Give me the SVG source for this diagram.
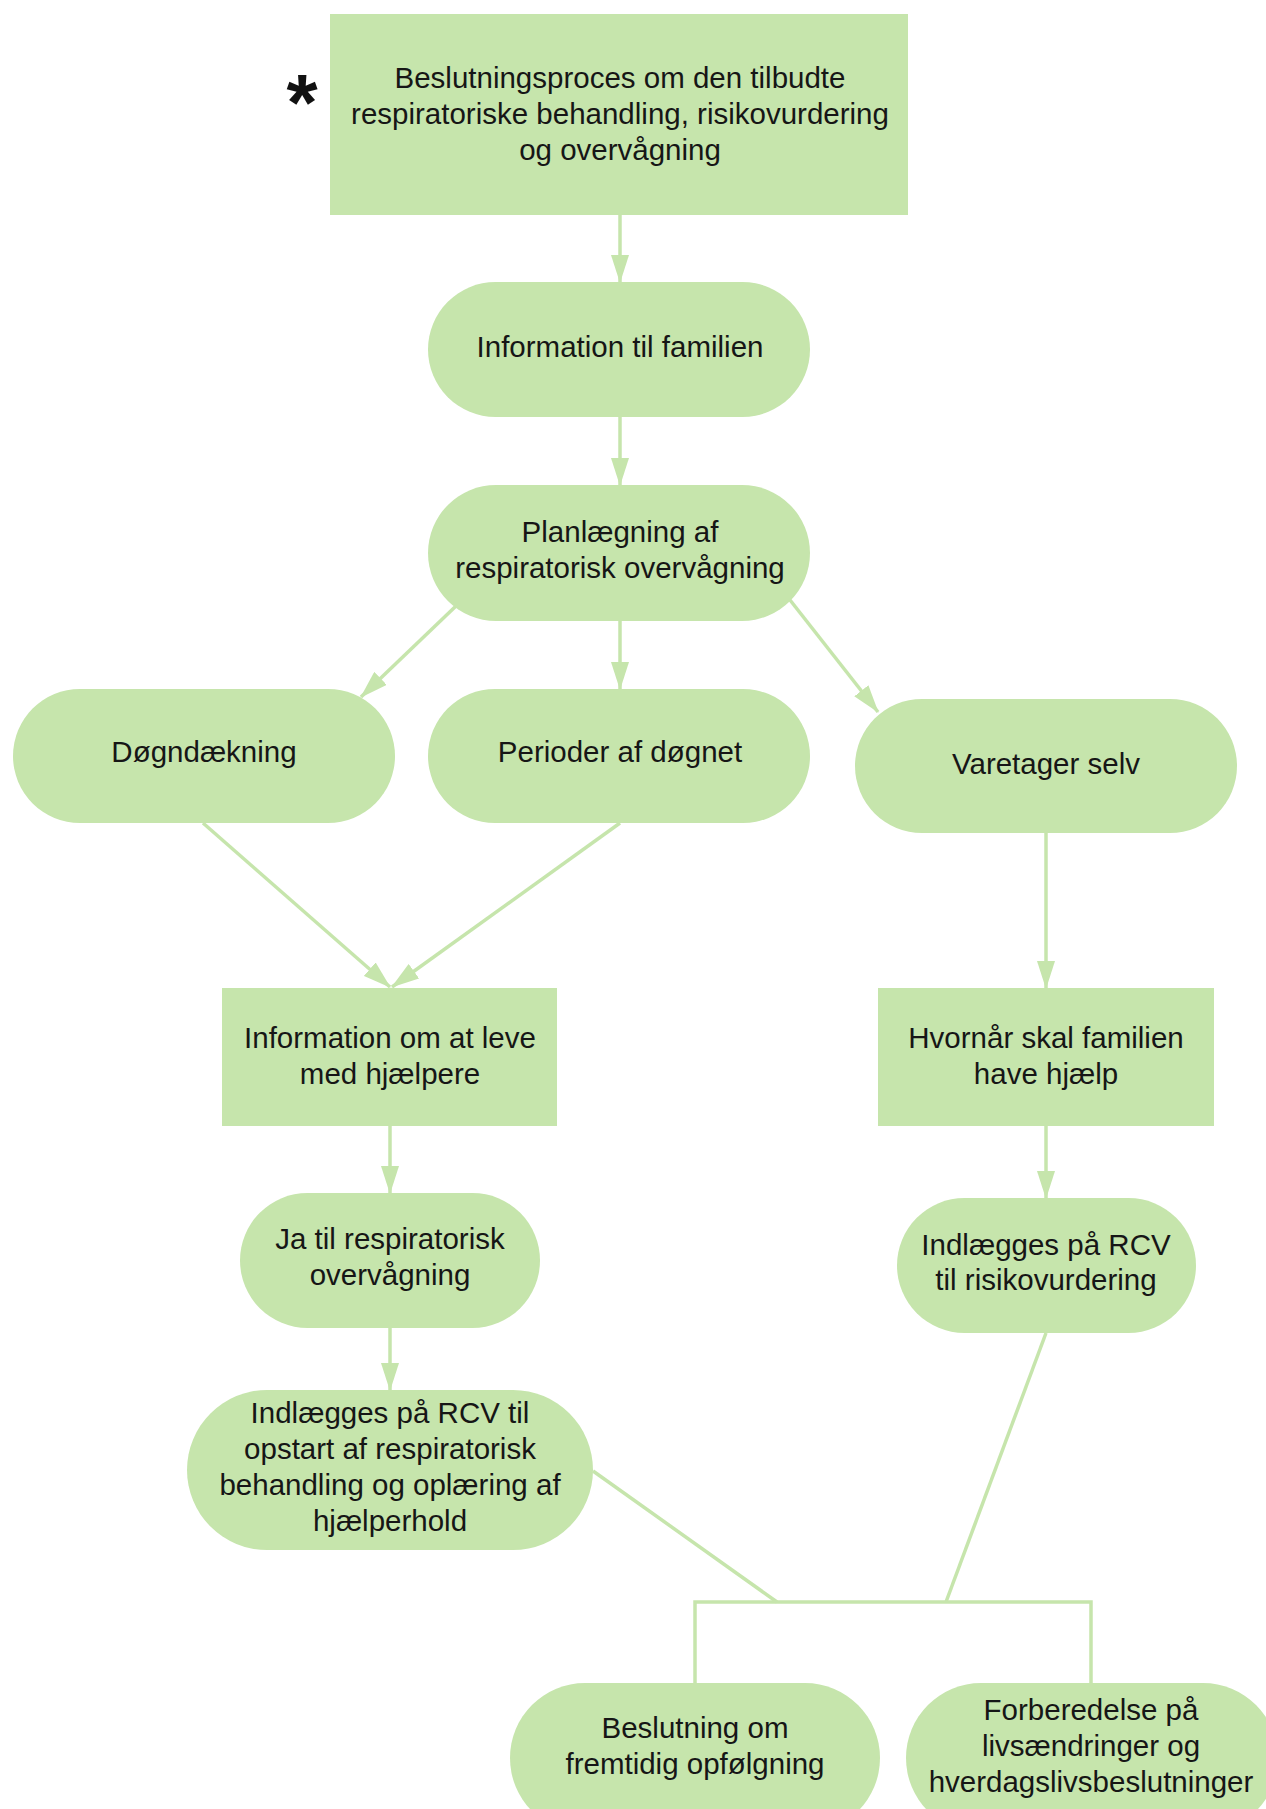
<svg xmlns="http://www.w3.org/2000/svg" width="1266" height="1809" viewBox="0 0 1266 1809">
<style>
.n{fill:#c6e5ac;}
.t{font-family:"Liberation Sans",Arial,sans-serif;font-size:29.5px;fill:#161616;text-anchor:middle;dominant-baseline:central;}
.c{stroke:#c6e5ac;stroke-width:3.5;fill:none;}
</style>
<defs>
<marker id="ah" markerUnits="userSpaceOnUse" markerWidth="28" markerHeight="18" viewBox="0 0 28 18" refX="27" refY="9" orient="auto">
<path d="M0,0 L28,9 L0,18 Z" fill="#c6e5ac"/>
</marker>
</defs>
<rect width="1266" height="1809" fill="#ffffff"/>
<text x="302" y="130" style="font-family:'Liberation Sans',Arial,sans-serif;font-size:80px;font-weight:bold;fill:#111;text-anchor:middle">*</text>
<g id="connectors">
<line class="c" x1="620" y1="215" x2="620" y2="282" marker-end="url(#ah)"/>
<line class="c" x1="620" y1="417" x2="620" y2="485" marker-end="url(#ah)"/>
<line class="c" x1="456" y1="606" x2="361" y2="697" marker-end="url(#ah)"/>
<line class="c" x1="620" y1="621" x2="620" y2="689" marker-end="url(#ah)"/>
<line class="c" x1="790" y1="600" x2="878" y2="712" marker-end="url(#ah)"/>
<line class="c" x1="203" y1="823" x2="390" y2="987" marker-end="url(#ah)"/>
<line class="c" x1="620" y1="823" x2="392" y2="987" marker-end="url(#ah)"/>
<line class="c" x1="1046" y1="833" x2="1046" y2="988" marker-end="url(#ah)"/>
<line class="c" x1="390" y1="1126" x2="390" y2="1193" marker-end="url(#ah)"/>
<line class="c" x1="390" y1="1328" x2="390" y2="1390" marker-end="url(#ah)"/>
<line class="c" x1="1046" y1="1126" x2="1046" y2="1198" marker-end="url(#ah)"/>
<line class="c" x1="593" y1="1471" x2="777" y2="1602"/>
<line class="c" x1="1046" y1="1333" x2="946" y2="1602"/>
<polyline class="c" points="695,1683 695,1602 1091,1602 1091,1683"/>
</g>
<g id="n1">
<rect class="n" x="330" y="14" width="578" height="201"/>
<text class="t" x="620" y="77">Beslutningsproces om den tilbudte</text>
<text class="t" x="620" y="113">respiratoriske behandling, risikovurdering</text>
<text class="t" x="620" y="149">og overvågning</text>
</g>
<g id="n2">
<rect class="n" x="428" y="282" width="382" height="135" rx="67.5"/>
<text class="t" x="620" y="346">Information til familien</text>
</g>
<g id="n3">
<rect class="n" x="428" y="485" width="382" height="136" rx="68"/>
<text class="t" x="620" y="531">Planlægning af</text>
<text class="t" x="620" y="567">respiratorisk overvågning</text>
</g>
<g id="n4">
<rect class="n" x="13" y="689" width="382" height="134" rx="67"/>
<text class="t" x="204" y="751">Døgndækning</text>
</g>
<g id="n5">
<rect class="n" x="428" y="689" width="382" height="134" rx="67"/>
<text class="t" x="620" y="751">Perioder af døgnet</text>
</g>
<g id="n6">
<rect class="n" x="855" y="699" width="382" height="134" rx="67"/>
<text class="t" x="1046" y="763">Varetager selv</text>
</g>
<g id="n7">
<rect class="n" x="222" y="988" width="335" height="138"/>
<text class="t" x="390" y="1037">Information om at leve</text>
<text class="t" x="390" y="1073">med hjælpere</text>
</g>
<g id="n8">
<rect class="n" x="878" y="988" width="336" height="138"/>
<text class="t" x="1046" y="1037">Hvornår skal familien</text>
<text class="t" x="1046" y="1073">have hjælp</text>
</g>
<g id="n9">
<rect class="n" x="240" y="1193" width="300" height="135" rx="67.5"/>
<text class="t" x="390" y="1238">Ja til respiratorisk</text>
<text class="t" x="390" y="1274">overvågning</text>
</g>
<g id="n10">
<rect class="n" x="187" y="1390" width="406" height="160" rx="80"/>
<text class="t" x="390" y="1412">Indlægges på RCV til</text>
<text class="t" x="390" y="1448">opstart af respiratorisk</text>
<text class="t" x="390" y="1484">behandling og oplæring af</text>
<text class="t" x="390" y="1520">hjælperhold</text>
</g>
<g id="n11">
<rect class="n" x="897" y="1198" width="299" height="135" rx="67.5"/>
<text class="t" x="1046" y="1244">Indlægges på RCV</text>
<text class="t" x="1046" y="1279">til risikovurdering</text>
</g>
<g id="n12">
<rect class="n" x="510" y="1683" width="370" height="150" rx="75"/>
<text class="t" x="695" y="1727">Beslutning om</text>
<text class="t" x="695" y="1763">fremtidig opfølgning</text>
</g>
<g id="n13">
<rect class="n" x="906" y="1683" width="372" height="150" rx="75"/>
<text class="t" x="1091" y="1709">Forberedelse på</text>
<text class="t" x="1091" y="1745">livsændringer og</text>
<text class="t" x="1091" y="1781">hverdagslivsbeslutninger</text>
</g>
</svg>
